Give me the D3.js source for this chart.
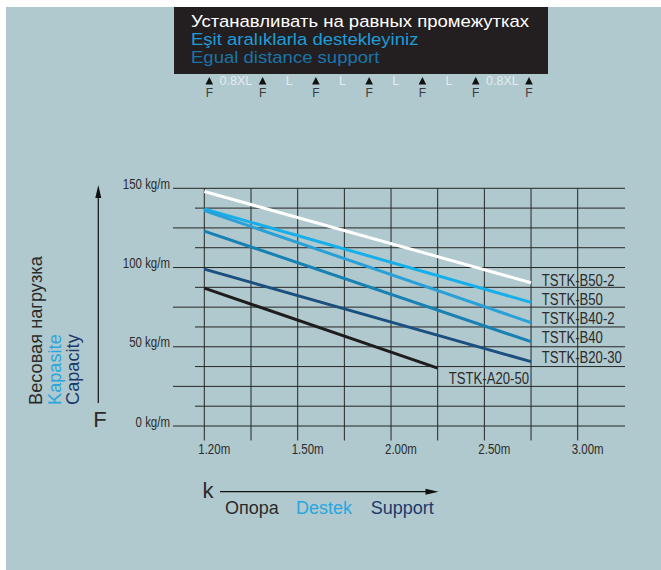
<!DOCTYPE html>
<html><head><meta charset="utf-8">
<script src="https://cdn.jsdelivr.net/npm/d3@7"></script>
<style>
html,body{margin:0;padding:0;background:#fff;}
svg{display:block;font-family:"Liberation Sans",Arial,Helvetica,sans-serif;}
</style></head>
<body>
<svg id="c" width="661" height="570"></svg>
<script>
// ---- data ----
const headerLines = ["Устанавливать на равных промежутках", "Eşit aralıklarla destekleyiniz", "Egual distance support"];
const spanLabels = ["0.8XL", "L", "L", "L", "L", "0.8XL"];
const supportLabel = "F";
const yTickValues = [0, 50, 100, 150];
const yTickLabels = ["0 kg/m", "50 kg/m", "100 kg/m", "150 kg/m"];
const yGridStep = 12.5;
const xGridValues = [1.2, 1.35, 1.5, 1.75, 2.0, 2.25, 2.5, 2.75, 3.0];
const xTickValues = [1.2, 1.5, 2.0, 2.5, 3.0];
const xTickLabels = ["1.20m", "1.50m", "2.00m", "2.50m", "3.00m"];
const seriesNames = ["TSTK-B50-2", "TSTK-B50", "TSTK-B40-2", "TSTK-B40", "TSTK-B20-30", "TSTK-A20-50"];
const seriesSpans = [[1.2, 2.75], [1.2, 2.75], [1.2, 2.75], [1.2, 2.75], [1.2, 2.75], [1.2, 2.25]];
const seriesValues = [[148, 90.4], [137, 78], [136, 65.2], [123, 53.2], [99, 40.6], [87, 36.5]];
const yTitle = ["Весовая нагрузка", "Kapasite", "Capacity"];
const xTitle = ["Опора", "Destek", "Support"];

// ---- styles ----
const seriesColors = ["#ffffff", "#16afea", "#29a0d8", "#1781b3", "#1b4f7f", "#1e1c1d"];
const svg = d3.select("#c");
const W = 661, H = 570;
const bg = "#b0c9ce";
const gridColor = "#262626";
const NARROW = 0.82;

svg.append("rect").attr("x", 6).attr("y", 7).attr("width", W - 6).attr("height", H - 7).attr("fill", bg);

// header box
svg.append("rect").attr("x", 174).attr("y", 7).attr("width", 374).attr("height", 67).attr("fill", "#231f20");
const headerColors = ["#ffffff", "#1e9cd7", "#1a74aa"];
svg.selectAll("text.hdr").data(headerLines).join("text")
  .attr("class", "hdr")
  .attr("transform", (d, i) => `translate(191,${27 + i * 18}) scale(1.09,1)`)
  .attr("font-size", 17).attr("fill", (d, i) => headerColors[i])
  .text(d => d);

// supports row
const nSupports = spanLabels.length + 1;
const sx = d3.scaleLinear().domain([0, nSupports - 1]).range([209.3, 529]);
const sup = svg.append("g");
sup.selectAll("path").data(d3.range(nSupports)).join("path")
  .attr("d", i => `M${sx(i) - 3.8},84.5 L${sx(i) + 3.8},84.5 L${sx(i)},77 Z`)
  .attr("fill", "#111");
sup.selectAll("text.F").data(d3.range(nSupports)).join("text")
  .attr("class", "F").attr("x", i => sx(i)).attr("y", 97)
  .attr("text-anchor", "middle").attr("font-size", 12).attr("fill", "#3b3b3b")
  .text(supportLabel);
sup.selectAll("text.sp").data(spanLabels).join("text")
  .attr("class", "sp").attr("x", (d, i) => (sx(i) + sx(i + 1)) / 2).attr("y", 85)
  .attr("text-anchor", "middle").attr("font-size", 12.5).attr("fill", "#e4ecee")
  .text(d => d);

// scales
const x = d3.scaleLinear().domain([1.2, 1.5, 3.0]).range([204.3, 297.7, 577.7]);
const y = d3.scaleLinear().domain([0, 150]).range([426, 188.3]);

// grid
const g = svg.append("g");
const yGrid = d3.range(0, 150 + 0.001, yGridStep);
g.selectAll("line.h").data(yGrid).join("line")
  .attr("x1", (d, i) => (i % 2 === 0 ? 173 : 195)).attr("x2", 625)
  .attr("y1", d => y(d)).attr("y2", d => y(d))
  .attr("stroke", gridColor).attr("stroke-width", 1);
g.selectAll("line.v").data(xGridValues).join("line")
  .attr("x1", d => x(d)).attr("x2", d => x(d))
  .attr("y1", y(150)).attr("y2", 440.5)
  .attr("stroke", gridColor).attr("stroke-width", 1);

// y tick labels (narrow)
g.selectAll("text.yl").data(yTickValues).join("text")
  .attr("transform", d => `translate(170,${y(d) + 0.5}) scale(${NARROW},1)`)
  .attr("text-anchor", "end").attr("font-size", 14).attr("fill", "#2b2b2b")
  .text((d, i) => yTickLabels[i]);

// x tick labels
g.selectAll("text.xl").data(xTickValues).join("text")
  .attr("transform", d => `translate(${x(d) - 6},454) scale(${NARROW},1)`)
  .attr("text-anchor", "start").attr("font-size", 14).attr("fill", "#2b2b2b")
  .text((d, i) => xTickLabels[i]);

// series lines
const line = d3.line().x(d => x(d[0])).y(d => y(d[1]));
const series = seriesNames.map((n, i) => ({
  name: n, color: seriesColors[i],
  pts: seriesSpans[i].map((s, j) => [s, seriesValues[i][j]])
}));
svg.append("g").selectAll("path").data(series).join("path")
  .attr("d", d => line(d.pts)).attr("fill", "none")
  .attr("stroke", d => d.color).attr("stroke-width", 3);

// series labels
const lab = svg.append("g");
series.forEach((s, i) => {
  if (i < 5) {
    lab.append("text")
      .attr("transform", `translate(541.7,${285.7 + i * 19.2}) scale(${NARROW},1)`)
      .attr("font-size", 16).attr("fill", "#2b2b2b").text(s.name);
  } else {
    lab.append("text")
      .attr("transform", `translate(${x(2.75) - 2},384.3) scale(${NARROW},1)`)
      .attr("text-anchor", "end")
      .attr("font-size", 16).attr("fill", "#2b2b2b").text(s.name);
  }
});

// y axis title + arrow
const titleColors = ["#2b2b2b", "#2aa6df", "#1b3a6b"];
const tx = [42, 61, 79];
svg.selectAll("text.yt").data(yTitle).join("text")
  .attr("transform", (d, i) => `translate(${tx[i]},405) rotate(-90)`)
  .attr("font-size", 18.2).attr("fill", (d, i) => titleColors[i])
  .text(d => d);
svg.append("line").attr("x1", 98.3).attr("x2", 98.3).attr("y1", 403).attr("y2", 196)
  .attr("stroke", "#111").attr("stroke-width", 1.2);
svg.append("path").attr("d", "M98.3,185 L95.3,198 L101.3,198 Z").attr("fill", "#111");
svg.append("text").attr("x", 100).attr("y", 426.7).attr("text-anchor", "middle")
  .attr("font-size", 22).attr("fill", "#2b2b2b").text("F");

// x axis title + arrow
svg.append("text").attr("x", 202.5).attr("y", 498.3).attr("font-size", 22).attr("fill", "#2b2b2b").text("k");
svg.append("line").attr("x1", 220).attr("x2", 428).attr("y1", 491.7).attr("y2", 491.7)
  .attr("stroke", "#111").attr("stroke-width", 1.2);
svg.append("path").attr("d", "M438.5,491.7 L425.5,488.7 L425.5,494.7 Z").attr("fill", "#111");
const xtColors = ["#2b2b2b", "#2aa6df", "#1b3a6b"];
const xtX = [225, 296, 370.7];
svg.selectAll("text.xt").data(xTitle).join("text")
  .attr("x", (d, i) => xtX[i]).attr("y", 514)
  .attr("font-size", 18).attr("fill", (d, i) => xtColors[i])
  .text(d => d);
</script>
</body></html>
